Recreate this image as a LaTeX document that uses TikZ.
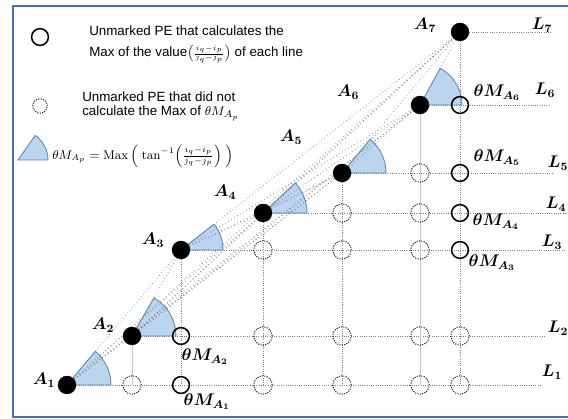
\documentclass[tikz,border=0pt]{standalone}
\usepackage{amsmath,amssymb}
\usepackage{fontspec}
\newfontfamily\legfont{Liberation Sans}
\usetikzlibrary{backgrounds}
\definecolor{wedgefill}{RGB}{186,213,237}
\definecolor{wedgeedge}{RGB}{80,135,195}
\definecolor{framecol}{RGB}{70,110,200}

\begin{document}
\begin{tikzpicture}[x=0.025cm, y=0.025cm,
  adot/.style={circle,fill=black,inner sep=0pt,minimum size=4.6mm},
  pe/.style={circle,draw,line width=1.1pt,inner sep=0pt,minimum size=4.2mm},
  pedot/.style={circle,draw,densely dotted,line width=0.7pt,inner sep=0pt,minimum size=4.6mm},
  gridline/.style={gray,densely dotted,line width=0.6pt},
  colline/.style={gray!45,line width=0.6pt},
  fan/.style={gray,dotted,line width=0.5pt},
  wedge/.style={fill=wedgefill,draw=wedgeedge,line width=0.6pt},
  lab/.style={font=\large,inner sep=1pt},
  leg/.style={font=\legfont\fontsize{9.5}{11}\selectfont,anchor=west,inner sep=0pt}]
  \useasboundingbox (0,0) rectangle (568,419);

  % frame
  \coordinate (fTR) at (568,413);
  \coordinate (fTL) at (13,413);
  \coordinate (fBL) at (13,2);
  \coordinate (fBR) at (568,2);
  \draw[framecol,line width=1.2pt] (fTR) -- (fTL) -- (fBL) -- (fBR);

  % legend
  \node[pe] (lg1) at (40,382) {};
  \node[leg] (lt1) at (89,388) {Unmarked PE that calculates the};
  \node[leg] (lt2) at (89,365) {Max of the value${\scriptstyle\left(\frac{i_q-i_p}{j_q-j_p}\right)}$ of each line};
  \node[pedot,minimum size=3.6mm] (lg2) at (40,313) {};
  \node[leg] (lt3) at (82,322) {Unmarked PE that did not};
  \node[leg] (lt4) at (82,306) {calculate the Max of $\theta M_{A_p}$};
  \coordinate (lw) at (18,259);
  \draw[wedge] (lw) -- ++(0:30) arc[start angle=0,end angle=55,radius=30] -- cycle;
  \node[anchor=west,font=\fontsize{9}{11}\selectfont,inner sep=0pt] (lt5) at (52,263)
    {$\theta M_{A_p} = \mathrm{Max}\left(\;\tan^{-1}\!\left(\frac{i_q-i_p}{j_q-j_p}\right)\;\right)$};

  % marked PEs
  \node[adot] (A1) at (67,34) {};
  \node[adot] (A2) at (132,83) {};
  \node[adot] (A3) at (181,169) {};
  \node[adot] (A4) at (263,206) {};
  \node[adot] (A5) at (342,246) {};
  \node[adot] (A6) at (420,314) {};
  \node[adot] (A7) at (460,387) {};

  % unmarked PEs, row L1
  \node[pedot] (p21) at (132,34) {};
  \node[pe] (p31) at (181,34) {};
  \node[pedot] (p41) at (263,34) {};
  \node[pedot] (p51) at (342,34) {};
  \node[pedot] (p61) at (420,34) {};
  \node[pedot] (p71) at (460,34) {};
  % row L2
  \node[pe] (p32) at (181,83) {};
  \node[pedot] (p42) at (263,83) {};
  \node[pedot] (p52) at (342,83) {};
  \node[pedot] (p62) at (420,83) {};
  \node[pedot] (p72) at (460,83) {};
  % row L3
  \node[pedot] (p43) at (263,169) {};
  \node[pedot] (p53) at (342,169) {};
  \node[pedot] (p63) at (420,169) {};
  \node[pe] (p73) at (460,169) {};
  % row L4
  \node[pedot] (p54) at (342,206) {};
  \node[pedot] (p64) at (420,206) {};
  \node[pe] (p74) at (460,206) {};
  % row L5
  \node[pedot] (p65) at (420,246) {};
  \node[pe] (p75) at (460,246) {};
  % row L6
  \node[pe] (p76) at (460,314) {};

  % line ends
  \coordinate (E1) at (542,34);
  \coordinate (E2) at (546,83);
  \coordinate (E3) at (566,169);
  \coordinate (E4) at (566,206);
  \coordinate (E5) at (552,246);
  \coordinate (E6) at (550,314);
  \coordinate (E7) at (552,387);

  \begin{pgfonlayer}{background}
    \draw[wedge] (A1.center) -- ++(0:44) arc[start angle=0,end angle=50,radius=44] -- cycle;
    \draw[wedge] (A2.center) -- ++(0:44) arc[start angle=0,end angle=60,radius=44] -- cycle;
    \draw[wedge] (A3.center) -- ++(0:42) arc[start angle=0,end angle=38,radius=42] -- cycle;
    \draw[wedge] (A4.center) -- ++(0:44) arc[start angle=0,end angle=43,radius=44] -- cycle;
    \draw[wedge] (A5.center) -- ++(0:44) arc[start angle=0,end angle=50,radius=44] -- cycle;
    \draw[wedge] (A6.center) -- ++(0:42) arc[start angle=0,end angle=61,radius=42] -- cycle;

    \foreach \p in {1,...,6}{
      \pgfmathtruncatemacro\nx{\p+1}
      \foreach \q in {\nx,...,7}{
        \draw[fan] (A\p) -- (A\q);
      }
    }

    \foreach \i in {1,...,7}{
      \draw[gridline] (A\i) -- (E\i);
    }
    \draw[colline] (A2) -- (p21.center);
    \draw[gridline] (A3) -- (p31.center);
    \draw[gridline] (A4) -- (p41.center);
    \draw[gridline] (A5) -- (p51.center);
    \draw[colline] (A6) -- (p61.center);
    \draw[gridline] (A7) -- (p71.center);
  \end{pgfonlayer}

  % labels
  \node[lab] (la1) at (44,39) {$\boldsymbol{A_1}$};
  \node[lab] (la2) at (103,94) {$\boldsymbol{A_2}$};
  \node[lab] (la3) at (153,179) {$\boldsymbol{A_3}$};
  \node[lab] (la4) at (225,227) {$\boldsymbol{A_4}$};
  \node[lab] (la5) at (291,282) {$\boldsymbol{A_5}$};
  \node[lab] (la6) at (348,327) {$\boldsymbol{A_6}$};
  \node[lab] (la7) at (425,394) {$\boldsymbol{A_7}$};

  \node[lab] (tm1) at (207,17) {$\boldsymbol{\theta M_{A_1}}$};
  \node[lab] (tm2) at (205,62) {$\boldsymbol{\theta M_{A_2}}$};
  \node[lab] (tm3) at (492,156) {$\boldsymbol{\theta M_{A_3}}$};
  \node[lab] (tm4) at (496,197) {$\boldsymbol{\theta M_{A_4}}$};
  \node[lab] (tm5) at (497,261) {$\boldsymbol{\theta M_{A_5}}$};
  \node[lab] (tm6) at (497,326) {$\boldsymbol{\theta M_{A_6}}$};

  \node[lab] (l1) at (552,47) {$\boldsymbol{L_1}$};
  \node[lab] (l2) at (558,91) {$\boldsymbol{L_2}$};
  \node[lab] (l3) at (552,177) {$\boldsymbol{L_3}$};
  \node[lab] (l4) at (556,215) {$\boldsymbol{L_4}$};
  \node[lab] (l5) at (558,256) {$\boldsymbol{L_5}$};
  \node[lab] (l6) at (545,329) {$\boldsymbol{L_6}$};
  \node[lab] (l7) at (542,394) {$\boldsymbol{L_7}$};
\end{tikzpicture}
\end{document}
